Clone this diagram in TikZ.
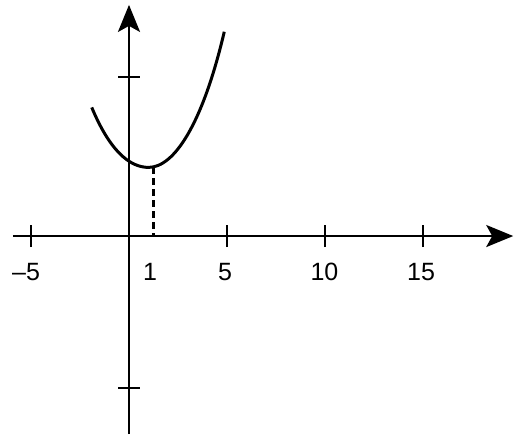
\documentclass[tikz,border=0pt]{standalone}
\usepackage{fontspec}
\setmainfont{Liberation Sans}
\usetikzlibrary{arrows.meta}
\tikzset{
  axis/.style={line width=1.25pt,-{Stealth[length=13.5pt,width=11pt,inset=3pt]}},
  tick/.style={line width=1.25pt},
  ticklabel/.style={font=\fontsize{12.5}{15}\selectfont,inner sep=0pt}
}
\begin{document}
\begin{tikzpicture}[x=9.8pt,y=9.8pt]
    \useasboundingbox (-6.58,-10.26) rectangle (19.69,12.04);
    % axes
    \coordinate (xstart) at (-5.92,0);
    \coordinate (xend) at (19.6,0);
    \coordinate (ystart) at (0,-10.1);
    \coordinate (yend) at (0,11.79);
    \draw[axis] (xstart) -- (xend);
    \draw[axis] (ystart) -- (yend);
    % ticks on the x-axis
    \foreach \x in {-5,5,10,15}
        \draw[tick] (\x,-0.56) -- (\x,0.56);
    % ticks on the y-axis
    \draw[tick] (-0.56,8.11) -- (0.56,8.11);
    \draw[tick] (-0.56,-7.76) -- (0.56,-7.76);
    % the curve and its lowest point
    \coordinate (cstart) at (-1.90,6.56);
    \coordinate (cbot) at (1.0,3.5);
    \coordinate (cend) at (4.86,10.42);
    \coordinate (cmin) at (1.26,3.51);
    \coordinate (cfoot) at (1.26,0);
    \draw[line width=1.5pt] (cstart) .. controls (-1.0,4.4) and (0,3.5) .. (cbot)
        .. controls (2.3,3.5) and (3.75,5.7) .. (cend);
    \draw[line width=1.25pt,dashed,dash pattern=on 3.5pt off 2pt] (cmin) -- (cfoot);
    % labels
    \node[ticklabel] (lm5) at (-5.25,-1.84) {–5};
    \node[ticklabel] (l1) at (1.07,-1.84) {1};
    \node[ticklabel] (l5) at (4.9,-1.84) {5};
    \node[ticklabel] (l10) at (9.97,-1.84) {10};
    \node[ticklabel] (l15) at (14.9,-1.84) {15};
\end{tikzpicture}
\end{document}
